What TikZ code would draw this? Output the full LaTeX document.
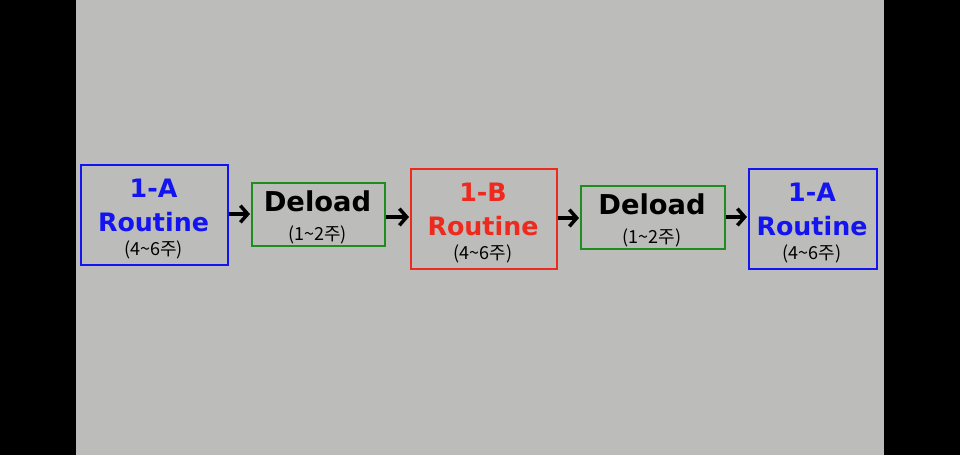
\documentclass[tikz,border=0pt]{standalone}
\usepackage{fontspec}
\setmainfont{Noto Sans CJK KR}
\newfontfamily\latinbold{DejaVu Sans}
\usetikzlibrary{arrows.meta}
\definecolor{panel}{HTML}{BCBDBB}
\definecolor{rblue}{HTML}{1414F0}
\definecolor{rred}{HTML}{EE2A1E}
\definecolor{rgreen}{HTML}{1E8C1E}
\tikzset{
  box/.style={draw, line width=1.65pt, inner sep=0pt, anchor=north west},
  big/.style={font=\latinbold\fontsize{19pt}{20pt}\selectfont\bfseries, anchor=base, inner sep=0pt},
  bigger/.style={font=\latinbold\fontsize{20.5pt}{21pt}\selectfont\bfseries, anchor=base, inner sep=0pt},
  small/.style={font=\fontsize{13.5pt}{14pt}\selectfont, anchor=base, inner sep=0pt, text=black},
  flow/.style={line width=2.6pt, -{Straight Barb[length=5.5pt, width=12.5pt, line width=2.6pt]}, shorten >=0.75pt}
}
\begin{document}
\begin{tikzpicture}[x=0.75pt, y=-0.75pt]
\fill[black] (0,0) rectangle (960,455);
\fill[panel] (76,0) rectangle (884,455);
\useasboundingbox (0,0) rectangle (960,455);
% boxes
\node[box, rblue, minimum width=110.25pt, minimum height=75pt] (b1) at (80,164) {};
\node[box, rgreen, minimum width=99.75pt, minimum height=47.25pt] (b2) at (251,182) {};
\node[box, rred, minimum width=109.5pt, minimum height=75pt] (b3) at (410,168) {};
\node[box, rgreen, minimum width=108pt, minimum height=47.25pt] (b4) at (580,185) {};
\node[box, rblue, minimum width=96pt, minimum height=75pt] (b5) at (748,168) {};
% texts
\node[big, text=rblue] (t1a) at (153.5,197) {1-A};
\node[big, text=rblue] (t1b) at (153.5,231) {Routine};
\node[small] (t1c) at (153.5,255) {(4\textasciitilde6주)};
\node[bigger, text=black] (t2a) at (317.5,211) {Deload};
\node[small] (t2b) at (317.5,240) {(1\textasciitilde2주)};
\node[big, text=rred] (t3a) at (483,201) {1-B};
\node[big, text=rred] (t3b) at (483,235) {Routine};
\node[small] (t3c) at (483,259) {(4\textasciitilde6주)};
\node[bigger, text=black] (t4a) at (652,214) {Deload};
\node[small] (t4b) at (652,243) {(1\textasciitilde2주)};
\node[big, text=rblue] (t5a) at (812,201) {1-A};
\node[big, text=rblue] (t5b) at (812,235) {Routine};
\node[small] (t5c) at (812,259) {(4\textasciitilde6주)};
% arrows
\coordinate (a1) at (227,214); \coordinate (a2) at (384,217);
\coordinate (a3) at (556,218); \coordinate (a4) at (724,217);
\draw[flow] (b1.east |- a1) -- (b2.west |- a1);
\draw[flow] (b2.east |- a2) -- (b3.west |- a2);
\draw[flow] (b3.east |- a3) -- (b4.west |- a3);
\draw[flow] (b4.east |- a4) -- (b5.west |- a4);
\end{tikzpicture}
\end{document}
